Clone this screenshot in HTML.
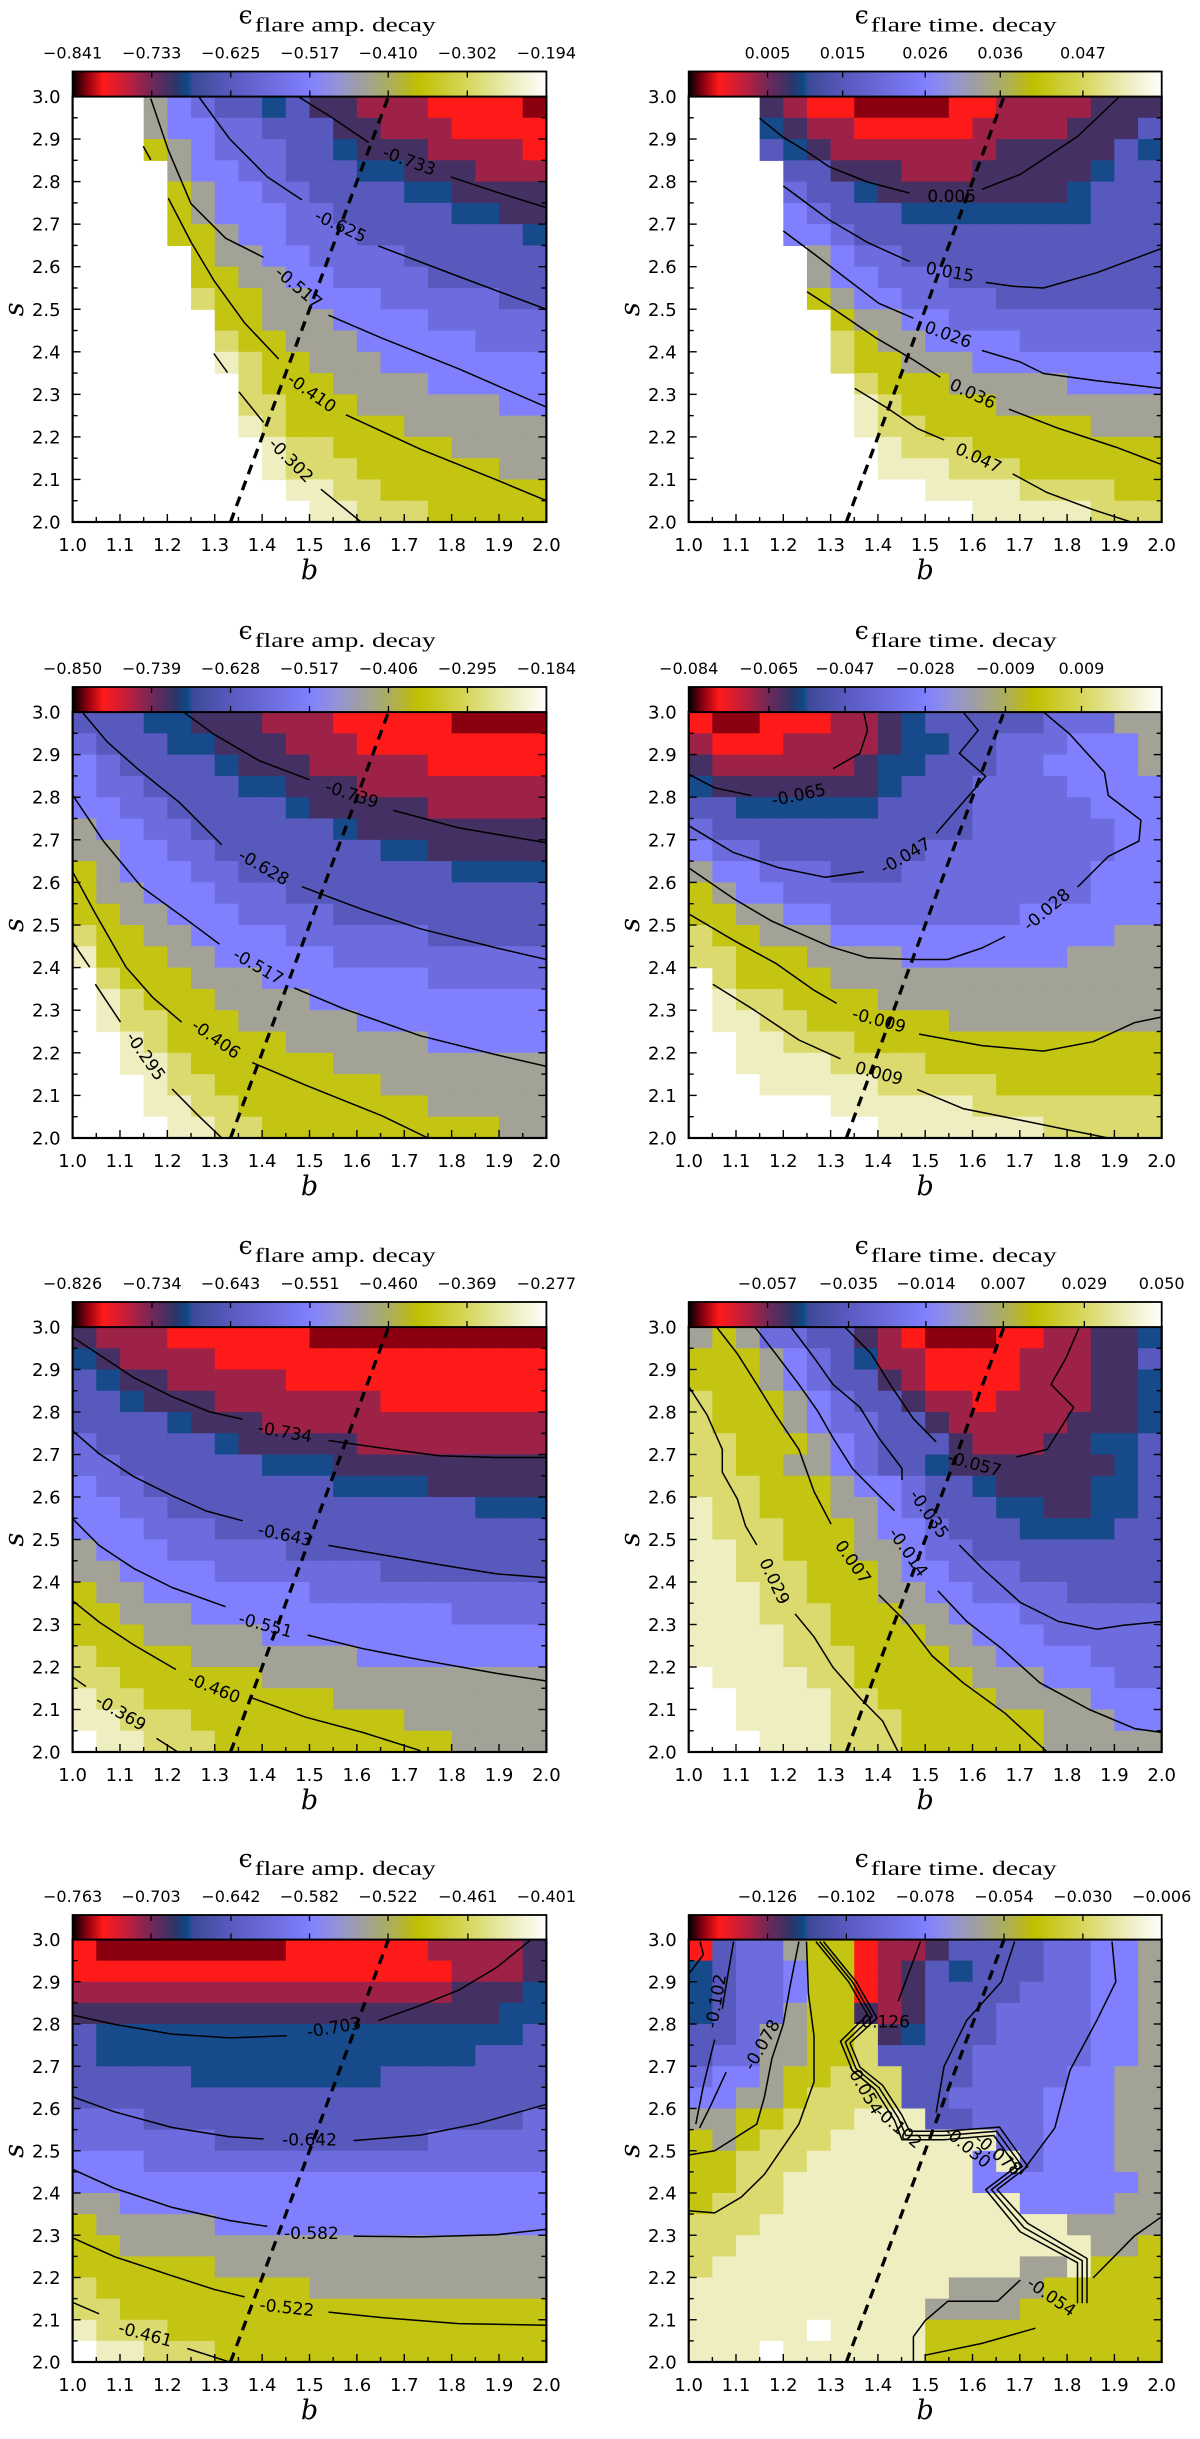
<!DOCTYPE html>
<html><head><meta charset="utf-8"><title>Flare decay parameter maps</title>
<style>
html,body{margin:0;padding:0;background:#fff;}
svg{display:block;}
</style></head>
<body>
<svg id="fig" xmlns="http://www.w3.org/2000/svg" width="1200" height="2439" viewBox="0 0 1200 2439">
<rect x="0" y="0" width="1200" height="2439" fill="#fff"/>
</svg>
<script>
// ---------- shared axis data ----------
const xTickValues = [1.0,1.1,1.2,1.3,1.4,1.5,1.6,1.7,1.8,1.9,2.0];
const xTickLabels = ["1.0","1.1","1.2","1.3","1.4","1.5","1.6","1.7","1.8","1.9","2.0"];
const yTickValues = [2.0,2.1,2.2,2.3,2.4,2.5,2.6,2.7,2.8,2.9,3.0];
const yTickLabels = ["2.0","2.1","2.2","2.3","2.4","2.5","2.6","2.7","2.8","2.9","3.0"];
const dashedB = [4/3, 5/3];
const dashedS = [2.0, 3.0];
// level code -> colormap fraction
const LEVEL_CHARS = "0123456789abc";
const LEVEL_FRACS = [0.03,0.065,0.14,0.2,0.245,0.33,0.42,0.5,0.62,0.75,0.85,0.93,1.0];

// ---------- panel 1 left ----------
const gridP1L = [
"...87655453322211110","...87766555332221111","...98766655433322221","....8776655544333222",
"....9877665555443333","....9877766555554433","....9987766655555554",".....988776666555555",
".....998877666655555",".....a99887776666655","......99888777766666","......a9988877777666",
"......ba998887777777",".......a999888877777",".......aa99988888877",".......ba99999888888",
"........baa999998888","........baaa99999988",".........bbaa9999999",".........cbbaaa99999"];
const rangeP1L = [-0.841, -0.194];
const cbTicksP1L = [-0.841,-0.733,-0.625,-0.517,-0.410,-0.302,-0.194];
const contoursP1L = [
 {segs:[[[1.476,3.0],[1.548,2.95],[1.625,2.892]],[[1.798,2.811],[1.895,2.775],[2.0,2.739]]], label:{t:"-0.733",b:1.71,s:2.847,a:20}},
 {segs:[[[1.266,3.0],[1.331,2.901],[1.411,2.811],[1.484,2.757]],[[1.645,2.649],[1.815,2.577],[2.0,2.5]]], label:{t:"-0.625",b:1.565,s:2.694,a:25}},
 {segs:[[[1.165,2.995],[1.202,2.874],[1.25,2.748],[1.323,2.667],[1.403,2.622]],[[1.54,2.486],[1.653,2.432],[1.815,2.36],[2.0,2.27]]], label:{t:"-0.517",b:1.476,s:2.55,a:40}},
 {segs:[[[1.202,2.761],[1.25,2.658],[1.298,2.568],[1.363,2.468],[1.435,2.383]],[[1.577,2.252],[1.734,2.171],[1.895,2.099],[2.0,2.05]]], label:{t:"-0.410",b:1.504,s:2.302,a:35}},
 {segs:[[[1.149,2.883],[1.165,2.851]],[[1.298,2.396],[1.327,2.351]],[[1.351,2.306],[1.403,2.234]],[[1.524,2.077],[1.609,2.0]]], label:{t:"-0.302",b:1.46,s:2.144,a:45}}
];

// ---------- panel 1 right ----------
const gridP1R = [
"...32110000112222333","...43221111122223335","...54322222223333354","....5533322233333455",
"....6554333333334555","....7655544444444555","....7765555555555555",".....876655555555555",
".....877666555555555",".....987766665555555","......98877666666666","......a9887777666666",
"......a9988877777777",".......a999888887777",".......ba99998888888",".......baa9999999888",
"........baaa99999999","........bbbaaa999999","........ccbbbbaaaa99","........ccccbbbbbaaa"];
const rangeP1R = [-0.0055, 0.0575];
const cbTicksP1R = [0.005,0.015,0.026,0.036,0.047];
const contoursP1R = [
 {segs:[[[1.15,2.949],[1.2,2.904],[1.249,2.871],[1.297,2.835],[1.378,2.799],[1.467,2.773]],[[1.62,2.782],[1.701,2.817],[1.822,2.906],[1.911,3.0]]], label:{t:"0.005",b:1.556,s:2.764,a:0}},
 {segs:[[[1.2,2.79],[1.297,2.71],[1.378,2.657],[1.467,2.612]],[[1.628,2.563],[1.685,2.554],[1.75,2.55],[1.863,2.586],[2.0,2.643]]], label:{t:"0.015",b:1.552,s:2.586,a:10}},
 {segs:[[[1.2,2.684],[1.265,2.63],[1.338,2.568],[1.402,2.514],[1.475,2.479]],[[1.62,2.403],[1.701,2.376],[1.75,2.349],[1.863,2.332],[2.0,2.314]]], label:{t:"0.026",b:1.548,s:2.439,a:20}},
 {segs:[[[1.25,2.541],[1.313,2.496],[1.394,2.434],[1.475,2.381],[1.532,2.34]],[[1.677,2.265],[1.782,2.22],[1.903,2.176],[2.0,2.135]]], label:{t:"0.036",b:1.6,s:2.3,a:25}},
 {segs:[[[1.351,2.314],[1.418,2.269],[1.483,2.22],[1.54,2.193]],[[1.685,2.113],[1.758,2.069],[1.855,2.029],[1.935,2.0]]], label:{t:"0.047",b:1.612,s:2.149,a:25}}
];

// ---------- panel 2 left ----------
const gridP2L = [
"55544333222111110000","65554433322211111111","76555543332222211111","76655554433322222222",
"77665555543333322222","87766555555433333333","88776655555554433333","98777665555555554444",
"98877766655555555555","99887776666555555555","a9988777766666655555","b9998877777666666666",
".a999888777777766666",".ba99988887777777777",".baa9998888877777777","..ba9999988888877777",
"..bba999999888888888","...baa99999998888888","...bbaa9999999988888","...cbbaa999999999988"];
const rangeP2L = [-0.850, -0.184];
const cbTicksP2L = [-0.850,-0.739,-0.628,-0.517,-0.406,-0.295,-0.184];
const contoursP2L = [
 {segs:[[[1.234,3.0],[1.298,2.948],[1.395,2.885],[1.5,2.841]],[[1.677,2.769],[1.815,2.728],[2.0,2.693]]], label:{t:"-0.739",b:1.589,s:2.805,a:18}},
 {segs:[[[1.02,3.0],[1.073,2.93],[1.137,2.867],[1.226,2.787],[1.315,2.688]],[[1.484,2.59],[1.613,2.536],[1.734,2.491],[1.895,2.446],[2.0,2.419]]], label:{t:"-0.628",b:1.403,s:2.634,a:30}},
 {segs:[[[1.0,2.805],[1.065,2.697],[1.145,2.59],[1.234,2.518],[1.31,2.455]],[[1.468,2.352],[1.573,2.303],[1.734,2.24],[1.895,2.195],[2.0,2.168]]], label:{t:"-0.517",b:1.391,s:2.401,a:30}},
 {segs:[[[1.0,2.625],[1.048,2.527],[1.113,2.401],[1.169,2.33],[1.23,2.272]],[[1.379,2.177],[1.492,2.124],[1.653,2.052],[1.75,2.0]]], label:{t:"-0.406",b:1.302,s:2.231,a:35}},
 {segs:[[[1.0,2.46],[1.036,2.401]],[[1.048,2.361],[1.101,2.272]],[[1.21,2.115],[1.266,2.052],[1.315,2.0]]], label:{t:"-0.295",b:1.153,s:2.191,a:55}}
];

// ---------- panel 2 right ----------
const gridP2R = [
"10011122345555566688","21112222344556667778","32222223445556677778","43333333455566667777",
"55444444555566666777","65555555555566666677","76655555556666666677","87766655566666666777",
"98776666666666666777","99887766666666777777","a9988877777777777788","aa999888877777778888",
".a999988888888888888",".baa9999888888888888",".bbaa999999888888888","..bbaaa9999999999999",
"..bbbbaaaa9999999999","..cbbbbbaaaaa9999999","..ccccbbbbbbaaaaaaaa","..ccccccbbbbbbbaaaaa"];
const rangeP2R = [-0.084, 0.028];
const cbTicksP2R = [-0.084,-0.065,-0.047,-0.028,-0.009,0.009];
const contoursP2R = [
 {segs:[[[1.0,2.854],[1.055,2.822],[1.132,2.804]],[[1.305,2.867],[1.362,2.903],[1.378,2.957],[1.37,3.0]]], label:{t:"-0.065",b:1.233,s:2.804,a:-12}},
 {segs:[[[1.0,2.733],[1.095,2.67],[1.192,2.634],[1.289,2.612],[1.37,2.625]],[[1.523,2.715],[1.572,2.778],[1.628,2.849],[1.572,2.903],[1.612,2.957],[1.58,3.0]]], label:{t:"-0.047",b:1.459,s:2.661,a:-30}},
 {segs:[[[1.0,2.634],[1.095,2.562],[1.176,2.509],[1.297,2.45],[1.378,2.423],[1.475,2.419],[1.548,2.419],[1.62,2.446],[1.669,2.473]],[[1.822,2.589],[1.887,2.661],[1.952,2.697],[1.956,2.746],[1.887,2.804],[1.879,2.858],[1.806,2.948],[1.75,3.0]]], label:{t:"-0.028",b:1.758,s:2.535,a:-40}},
 {segs:[[[1.0,2.526],[1.095,2.464],[1.184,2.41],[1.265,2.347],[1.313,2.316]],[[1.487,2.244],[1.62,2.217],[1.75,2.204],[1.855,2.226],[1.943,2.271],[2.0,2.284]]], label:{t:"-0.009",b:1.402,s:2.275,a:15}},
 {segs:[[[1.051,2.361],[1.136,2.302],[1.233,2.23],[1.321,2.186]],[[1.483,2.114],[1.58,2.069],[1.701,2.042],[1.798,2.02],[1.887,2.0]]], label:{t:"0.009",b:1.402,s:2.15,a:15}}
];

// ---------- panel 3 left ----------
const gridP3L = [
"32221111110000000000","43222211111111111111","54332222211111111111","55433322222221111111",
"55554333222222222222","65555543333322222222","66555555444333333333","76655555555444433333",
"77665555555555555444","77766655555555555555","87776666655555555555","88777766666665555555",
"98877777776666666666","99888777777777776666","99988888777777777777","a9999888888877777777",
"aa999999888888888888","baa99999999888888888","bbaaa999999999888888","cbbaaa99999999998888"];
const rangeP3L = [-0.826, -0.277];
const cbTicksP3L = [-0.826,-0.734,-0.643,-0.551,-0.460,-0.369,-0.277];
const contoursP3L = [
 {segs:[[[1.0,2.976],[1.056,2.935],[1.129,2.881],[1.21,2.836],[1.29,2.8],[1.359,2.783]],[[1.54,2.733],[1.653,2.715],[1.774,2.697],[1.895,2.693],[2.0,2.693]]], label:{t:"-0.734",b:1.448,s:2.751,a:10}},
 {segs:[[[1.0,2.756],[1.056,2.702],[1.129,2.648],[1.21,2.603],[1.282,2.567],[1.359,2.544]],[[1.54,2.486],[1.653,2.464],[1.774,2.441],[1.895,2.419],[2.0,2.41]]], label:{t:"-0.643",b:1.448,s:2.509,a:12}},
 {segs:[[[1.0,2.549],[1.056,2.486],[1.129,2.432],[1.21,2.387],[1.323,2.342]],[[1.496,2.275],[1.613,2.243],[1.734,2.217],[1.895,2.185],[2.0,2.167]]], label:{t:"-0.551",b:1.407,s:2.297,a:15}},
 {segs:[[[1.0,2.356],[1.056,2.306],[1.129,2.252],[1.218,2.194]],[[1.379,2.127],[1.492,2.082],[1.613,2.046],[1.734,2.003]]], label:{t:"-0.460",b:1.298,s:2.149,a:22}},
 {segs:[[[1.0,2.176],[1.028,2.154]],[[1.177,2.032],[1.222,2.0]]], label:{t:"-0.369",b:1.101,s:2.091,a:30}}
];

// ---------- panel 3 right ----------
const gridP3R = [
"89866553210001122334","99987654221111222335","99987655321111222334","a9998765532212222334",
"a9998766553222223334","aa999876555322233445","aa998876554333333345","aaa99987765543333445",
"baa99988765554433445","baaa9998776555444455","bbaa9998876655555555","bbaaa999877666555555",
"bbbaa999887766665555","bbbaaa99988777666666","bbbbaa99998877766666","bbbbaaa9999887777666",
"cbbbbaa9999988877766","ccbbbbaa999998888777","ccbbbbaaa99999988877","cccbbbaaa99999988888"];
const rangeP3R = [-0.0784, 0.050];
const cbTicksP3R = [-0.057,-0.035,-0.014,0.007,0.029,0.050];
const contoursP3R = [
 {segs:[[[1.0,2.86],[1.039,2.793],[1.071,2.712],[1.071,2.658],[1.103,2.595],[1.12,2.532],[1.144,2.487]],[[1.225,2.325],[1.265,2.271],[1.305,2.199],[1.362,2.127],[1.41,2.073],[1.443,2.0]]], label:{t:"0.029",b:1.18,s:2.401,a:65}},
 {segs:[[[1.059,3.0],[1.103,2.937],[1.144,2.865],[1.184,2.793],[1.233,2.712],[1.265,2.613],[1.301,2.536]],[[1.402,2.37],[1.459,2.307],[1.515,2.226],[1.58,2.163],[1.669,2.091],[1.758,2.0]]], label:{t:"0.007",b:1.346,s:2.446,a:55}},
 {segs:[[[1.14,3.0],[1.184,2.937],[1.233,2.865],[1.273,2.802],[1.305,2.739],[1.346,2.667],[1.394,2.613],[1.435,2.568]],[[1.527,2.379],[1.588,2.307],[1.661,2.244],[1.742,2.163],[1.847,2.1],[1.943,2.055],[2.0,2.046]]], label:{t:"-0.014",b:1.463,s:2.469,a:55}},
 {segs:[[[1.216,3.0],[1.265,2.928],[1.305,2.865],[1.362,2.811],[1.402,2.739],[1.451,2.667],[1.451,2.64]],[[1.572,2.487],[1.62,2.433],[1.701,2.352],[1.782,2.307],[1.863,2.289],[1.919,2.298],[2.0,2.307]]], label:{t:"-0.035",b:1.507,s:2.559,a:55}},
 {segs:[[[1.33,3.0],[1.386,2.937],[1.426,2.865],[1.475,2.784],[1.523,2.73]],[[1.693,2.694],[1.758,2.712],[1.814,2.811],[1.766,2.865],[1.798,2.928],[1.826,3.0]]], label:{t:"-0.057",b:1.604,s:2.676,a:15}}
];

// ---------- panel 4 left ----------
const gridP4L = [
"10000000011111122223","11111111111111112223","22222222222222223334","33333333333333333344",
"54444444444444444445","54444444444444444555","55555444444445555555","55555555555555555555",
"66655555555555555556","66666655555555566666","77766666666666666666","77777777777777777777",
"88777777777777777777","98888877777777777777","99888888888888888888","99999988888888888888",
"a9999999998888888888","aa999999999999999999","baaa9999999999999999","cbbaaa99999999999999"];
const rangeP4L = [-0.763, -0.401];
const cbTicksP4L = [-0.763,-0.703,-0.642,-0.582,-0.522,-0.461,-0.401];
const contoursP4L = [
 {segs:[[[1.0,2.821],[1.089,2.799],[1.21,2.776],[1.331,2.767],[1.452,2.772]],[[1.645,2.808],[1.734,2.844],[1.815,2.88],[1.895,2.934],[1.968,3.0]]], label:{t:"-0.703",b:1.552,s:2.79,a:-10}},
 {segs:[[[1.0,2.628],[1.089,2.592],[1.21,2.555],[1.331,2.533],[1.403,2.528]],[[1.593,2.524],[1.734,2.537],[1.855,2.564],[2.0,2.61]]], label:{t:"-0.642",b:1.5,s:2.524,a:0}},
 {segs:[[[1.0,2.456],[1.089,2.411],[1.21,2.366],[1.331,2.335],[1.411,2.321]],[[1.593,2.298],[1.734,2.296],[1.895,2.301],[2.0,2.314]]], label:{t:"-0.582",b:1.504,s:2.303,a:0}},
 {segs:[[[1.0,2.294],[1.089,2.249],[1.21,2.204],[1.298,2.172],[1.363,2.154]],[[1.54,2.118],[1.653,2.105],[1.815,2.091],[2.0,2.087]]], label:{t:"-0.522",b:1.452,s:2.127,a:6}},
 {segs:[[[1.0,2.141],[1.056,2.114]],[[1.242,2.032],[1.331,2.0]]], label:{t:"-0.461",b:1.153,s:2.064,a:15}}
];

// ---------- panel 4 right ----------
const gridP4R = [
"15668991223555566778","45667991235455566778","45667991235555666778","45668993235556666778",
"5568899a345556666778","5668899a555566666778","677899aaa55566667788","77889aaaa55666677788",
"8899aaabbb5566677788","989aaabbbbbbb6677788","99aaabbbbbbb7b677788","99aabbbbbbbb77777778",
"9aaabbbbbbbbbb777788","aaabbbbbbbbbbbbb8888","aabbbbbbbbbbbbbbb889","abbbbbbbbbbbbb88b999",
"bbbbbbbbbbb888899999","bbbbbbbbbb8888999999","bbbbbcbbbb9999999999","bbbcbbbbbb9999999999"];
const rangeP4R = [-0.150, -0.006];
const cbTicksP4R = [-0.126,-0.102,-0.078,-0.054,-0.030,-0.006];
const contoursP4R = [
 {segs:[[[1.024,2.995],[1.031,2.964],[1.0,2.918]],[[1.055,2.763],[1.031,2.654],[1.015,2.563]]], label:{t:"-0.102",b:1.059,s:2.854,a:-80}},
 {segs:[[[1.095,2.995],[1.083,2.918],[1.071,2.836]],[[1.079,2.686],[1.047,2.608],[1.023,2.554]]], label:{t:"-0.078",b:1.156,s:2.75,a:-60}},
 {segs:[[[1.233,2.995],[1.216,2.9],[1.2,2.8],[1.176,2.718],[1.16,2.627],[1.144,2.563],[1.055,2.5],[1.0,2.49]]], label:null},
 {segs:[[[1.249,2.995],[1.253,2.872],[1.265,2.772],[1.265,2.663],[1.233,2.563],[1.16,2.444],[1.111,2.39],[1.055,2.353],[1.0,2.358]]], label:null},
 {segs:[[[1.269,2.995],[1.338,2.9],[1.378,2.822],[1.321,2.759],[1.346,2.69],[1.394,2.645],[1.435,2.572],[1.451,2.526],[1.54,2.526],[1.645,2.536],[1.693,2.463],[1.628,2.408],[1.701,2.308],[1.822,2.235],[1.822,2.139]]], label:{t:"-0.054",b:1.37,s:2.645,a:60}},
 {segs:[[[1.277,2.995],[1.346,2.9],[1.388,2.818],[1.331,2.757],[1.354,2.694],[1.402,2.65],[1.443,2.578],[1.459,2.536],[1.54,2.536],[1.651,2.546],[1.705,2.463],[1.64,2.408],[1.709,2.318],[1.832,2.24],[1.832,2.139]]], label:null},
 {segs:[[[1.285,2.995],[1.354,2.9],[1.398,2.814],[1.341,2.755],[1.362,2.698],[1.41,2.655],[1.451,2.584],[1.467,2.546],[1.54,2.546],[1.657,2.556],[1.717,2.463],[1.652,2.408],[1.717,2.328],[1.842,2.245],[1.842,2.139]]], label:{t:"-0.102",b:1.443,s:2.554,a:40}},
 {segs:[[[1.689,2.995],[1.661,2.9],[1.588,2.809],[1.54,2.7],[1.523,2.59]]], label:{t:"-0.030",b:1.588,s:2.508,a:40}},
 {segs:[[[1.895,2.995],[1.903,2.9],[1.863,2.809],[1.806,2.69],[1.774,2.554],[1.701,2.444]]], label:{t:"-0.078",b:1.653,s:2.49,a:40}},
 {segs:[[[1.855,2.199],[1.943,2.299],[2.0,2.344]]], label:null},
 {segs:[[[1.5,2.016],[1.62,2.044],[1.733,2.08]],[[1.475,2.0],[1.475,2.06],[1.5,2.098],[1.548,2.144],[1.653,2.144],[1.701,2.194]]], label:{t:"-0.054",b:1.766,s:2.153,a:35}},
 {segs:[[[1.49,2.995],[1.443,2.854]]], label:{t:"-0.126",b:1.41,s:2.804,a:0}}
];

// ---------- colormap (style) ----------
const CMAP_STOPS = [
 [0.00,[0,0,0]],[0.03,[138,0,16]],[0.065,[255,26,26]],[0.12,[190,30,60]],[0.17,[110,40,90]],
 [0.215,[48,52,104]],[0.243,[12,74,136]],[0.253,[60,74,152]],[0.336,[90,90,192]],[0.42,[108,108,222]],
 [0.50,[128,128,255]],[0.56,[148,148,212]],[0.62,[162,162,150]],[0.68,[176,176,80]],[0.73,[192,192,0]],
 [0.84,[216,216,100]],[0.93,[238,238,192]],[1.00,[255,255,255]]];
function cmap(f){
  f=Math.max(0,Math.min(1,f));
  for(let i=1;i<CMAP_STOPS.length;i++){
    if(f<=CMAP_STOPS[i][0]){
      const a=CMAP_STOPS[i-1],b=CMAP_STOPS[i];
      const t=(f-a[0])/((b[0]-a[0])||1);
      const c=a[1].map((v,k)=>Math.round(v+(b[1][k]-v)*t));
      return "rgb("+c.join(",")+")";
    }
  }
  return "rgb(255,255,255)";
}

const NS="http://www.w3.org/2000/svg";
const svg=document.getElementById('fig');
function mk(tag,attrs,parent){
  const e=document.createElementNS(NS,tag);
  for(const k in attrs) e.setAttribute(k,attrs[k]);
  (parent||svg).appendChild(e);
  return e;
}
function fmt(v){ const s=v.toFixed(3); return v<0 ? "\u2212"+s.slice(1) : s; }

const COL_L={L:72.6,R:546.4}, COL_R={L:688.7,R:1161.7};
const ROWS=[{cbTop:71.5,top:96.5,bottom:522},{cbTop:687,top:712,bottom:1138},{cbTop:1302,top:1327,bottom:1752},{cbTop:1915,top:1939.5,bottom:2362}];
function box(c,r){return {L:c.L,R:c.R,cbTop:r.cbTop,top:r.top,bottom:r.bottom};}

const panels=[
 {id:"p1l",grid:gridP1L,range:rangeP1L,ticks:cbTicksP1L,contours:contoursP1L,title:"flare amp. decay",box:box(COL_L,ROWS[0])},
 {id:"p1r",grid:gridP1R,range:rangeP1R,ticks:cbTicksP1R,contours:contoursP1R,title:"flare time. decay",box:box(COL_R,ROWS[0])},
 {id:"p2l",grid:gridP2L,range:rangeP2L,ticks:cbTicksP2L,contours:contoursP2L,title:"flare amp. decay",box:box(COL_L,ROWS[1])},
 {id:"p2r",grid:gridP2R,range:rangeP2R,ticks:cbTicksP2R,contours:contoursP2R,title:"flare time. decay",box:box(COL_R,ROWS[1])},
 {id:"p3l",grid:gridP3L,range:rangeP3L,ticks:cbTicksP3L,contours:contoursP3L,title:"flare amp. decay",box:box(COL_L,ROWS[2])},
 {id:"p3r",grid:gridP3R,range:rangeP3R,ticks:cbTicksP3R,contours:contoursP3R,title:"flare time. decay",box:box(COL_R,ROWS[2])},
 {id:"p4l",grid:gridP4L,range:rangeP4L,ticks:cbTicksP4L,contours:contoursP4L,title:"flare amp. decay",box:box(COL_L,ROWS[3])},
 {id:"p4r",grid:gridP4R,range:rangeP4R,ticks:cbTicksP4R,contours:contoursP4R,title:"flare time. decay",box:box(COL_R,ROWS[3])}
];

function drawPanel(p){
  const {L,R,cbTop,top,bottom}=p.box;
  const vmin=p.range[0], vmax=p.range[1];
  const xs=b=>L+(b-1)*(R-L);
  const ys=s=>bottom-(s-2)*(bottom-top);
  const cx=v=>L+(v-vmin)/(vmax-vmin)*(R-L);
  const g=mk('g',{});
  
  

  const hm=mk('g',{},g);
  
  
  for(let i=0;i<20;i++){
    const row=p.grid[i]||"";
    for(let j=0;j<20;j++){
      const ch=row[j]||row[row.length-1];
      const idx=LEVEL_CHARS.indexOf(ch);
      if(idx<0) continue;
      const value=vmin+LEVEL_FRACS[idx]*(vmax-vmin);
      const s0=3-0.05*(i+1), b0=1+0.05*j;
      const x0=xs(b0), x1=xs(b0+0.05), y0=ys(s0+0.05), y1=ys(s0);
      const r=mk('rect',{x:x0.toFixed(2),y:y0.toFixed(2),width:(x1-x0+0.6).toFixed(2),height:(y1-y0+0.6).toFixed(2),fill:cmap((value-vmin)/(vmax-vmin))},hm);
      
      
    }
  }

  const cp=mk('clipPath',{id:'clip-'+p.id},g);
  mk('rect',{x:L,y:top,width:R-L,height:bottom-top},cp);
  const cg=mk('g',{'clip-path':'url(#clip-'+p.id+')'},g);
  
  
  p.contours.forEach(c=>{
    c.segs.forEach(seg=>{
      const pts=seg.map(q=>xs(q[0]).toFixed(1)+","+ys(q[1]).toFixed(1)).join(" ");
      const pl=mk('polyline',{points:pts,fill:'none',stroke:'#000','stroke-width':1.5,'stroke-linejoin':'round'},cg);
      
      
    });
    if(c.label){
      const x=xs(c.label.b), y=ys(c.label.s);
      const t=mk('text',{x:x.toFixed(1),y:y.toFixed(1),'font-family':'DejaVu Sans, Liberation Sans, sans-serif','font-size':17,'text-anchor':'middle','dominant-baseline':'central',fill:'#000',transform:'rotate('+c.label.a+' '+x.toFixed(1)+' '+y.toFixed(1)+')'},cg);
      t.textContent=c.label.t;
      
      
    }
  });

  const dl=mk('line',{x1:xs(dashedB[0]),y1:ys(dashedS[0]),x2:xs(dashedB[1]),y2:ys(dashedS[1]),stroke:'#000','stroke-width':3.3,'stroke-dasharray':'10,7'},g);
  
  

  const tg=mk('g',{stroke:'#000','stroke-width':1.4},g);
  
  
  for(let k=0;k<=20;k++){
    const v=1+k*0.05, len=(k%2===0)?8:5;
    const x=xs(v);
    mk('line',{x1:x,y1:bottom,x2:x,y2:bottom-len},tg);
  }
  for(let k=0;k<=20;k++){
    const v=2+k*0.05, len=(k%2===0)?8:5;
    const y=ys(v);
    mk('line',{x1:L,y1:y,x2:L+len,y2:y},tg);
    mk('line',{x1:R,y1:y,x2:R-len,y2:y},tg);
  }

  const fr=mk('rect',{x:L,y:top,width:R-L,height:bottom-top,fill:'none',stroke:'#000','stroke-width':2.2},g);
  
  

  xTickValues.forEach((v,i)=>{
    const t=mk('text',{x:xs(v),y:bottom+29,'font-family':'DejaVu Sans, Liberation Sans, sans-serif','font-size':18,'text-anchor':'middle',fill:'#000'},g);
    t.textContent=xTickLabels[i];
    
    
  });
  yTickValues.forEach((v,i)=>{
    const t=mk('text',{x:L-12,y:ys(v)+6.5,'font-family':'DejaVu Sans, Liberation Sans, sans-serif','font-size':18,'text-anchor':'end',fill:'#000'},g);
    t.textContent=yTickLabels[i];
    
    
  });
  const xl=mk('text',{x:(L+R)/2,y:bottom+57,'font-family':'DejaVu Serif, Liberation Serif, serif','font-style':'italic','font-size':27,'text-anchor':'middle',fill:'#000'},g);
  xl.textContent='b';
  
  
  const yx=L-58, yy=ys(2.5);
  const yl=mk('text',{x:yx,y:yy,'font-family':'DejaVu Serif, Liberation Serif, serif','font-style':'italic','font-size':27,'text-anchor':'middle','dominant-baseline':'central',fill:'#000',transform:'rotate(-90 '+yx+' '+yy+')'},g);
  yl.textContent='s';
  
  

  const cb=mk('g',{},g);
  
  
  const N=240, w=(R-L)/N;
  for(let k=0;k<N;k++){
    mk('rect',{x:(L+k*w).toFixed(2),y:cbTop,width:(w+0.6).toFixed(2),height:top-cbTop,fill:cmap((k+0.5)/N)},cb);
  }
  const cbf=mk('rect',{x:L,y:cbTop,width:R-L,height:top-cbTop,fill:'none',stroke:'#000','stroke-width':1.8},cb);
  
  
  p.ticks.forEach(v=>{
    const x=cx(v);
    mk('line',{x1:x,y1:top,x2:x,y2:top-6,stroke:'#000','stroke-width':1.3},cb);
    mk('line',{x1:x,y1:cbTop,x2:x,y2:cbTop+6,stroke:'#000','stroke-width':1.3},cb);
    const t=mk('text',{x:x,y:cbTop-13,'font-family':'DejaVu Sans, Liberation Sans, sans-serif','font-size':16,'text-anchor':'middle',fill:'#000'},cb);
    t.textContent=fmt(v);
    
    
  });

  const eps=mk('text',{x:L+166,y:cbTop-48,'font-family':'DejaVu Serif, Liberation Serif, serif','font-size':25,fill:'#000'},g);
  eps.textContent='\u03F5';
  
  
  const isTime=p.title.indexOf('time')>=0;
  const sub=mk('text',{x:L+(isTime?182:182),y:cbTop-40,'font-family':'Liberation Serif, DejaVu Serif, serif','font-size':20,fill:'#000',textLength:isTime?186:181,lengthAdjust:'spacingAndGlyphs'},g);
  sub.textContent=p.title;
  
  
}
panels.forEach(drawPanel);
</script>
</body></html>
